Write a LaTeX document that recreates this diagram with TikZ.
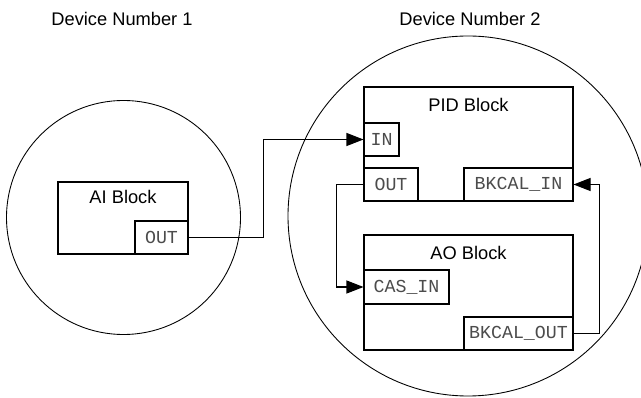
\documentclass[tikz,border=0pt]{standalone}
\usepackage{fontspec}
\setsansfont{Liberation Sans}
\setmonofont{Liberation Mono}
\usepackage{tikz}
\usetikzlibrary{calc,arrows.meta,positioning}
\tikzset {>={Triangle[length=.34cm,width=.26cm]}}
\tikzset{
  block/.style={draw,line width=.6pt,minimum width=4.18cm,minimum height=2.28cm,inner sep=0pt},
  port/.style={draw,fill=white,line width=.6pt,inner sep=0pt,minimum height=.66cm,
    font=\ttfamily\fontsize{10.4}{12}\selectfont,text=black!70},
  lbl/.style={font=\sffamily\fontsize{10.4}{12}\selectfont},
}

\begin{document}
\begin{tikzpicture}
\useasboundingbox (0,0) rectangle (12.82,7.94);
\node[lbl] (dev1) at (2.44,7.56) {Device Number 1};
\node[lbl] (dev2) at (9.40,7.56) {Device Number 2};
\draw[line width=.5pt] (2.47,3.59) circle (2.34);
\draw[line width=.5pt] (9.36,3.62) circle (3.6);
% device 1
\node[block,minimum width=2.6cm,minimum height=1.44cm] (ai) at (2.46,3.58) {};
\node[lbl] (ailbl) at ($(ai.north)+(0,-.3)$) {AI Block};
\node[port,minimum width=1.06cm,anchor=south east] (aiout) at (ai.south east) {OUT};
% device 2
\node[block] (pid) at (9.37,5.06) {};
\node[lbl] (pidlbl) at ($(pid.north)+(0,-.36)$) {PID Block};
\node[port,minimum width=.7cm,anchor=north west] (pidin) at ($(pid.north west)+(0,-.72)$) {IN};
\node[port,minimum width=1.08cm,anchor=south west] (pidout) at (pid.south west) {OUT};
\node[port,minimum width=2.18cm,anchor=south east] (bkin) at (pid.south east) {BKCAL\_IN};
\node[block,minimum height=2.3cm] (ao) at (9.37,2.09) {};
\node[lbl] (aolbl) at ($(ao.north)+(0,-.36)$) {AO Block};
\node[port,minimum width=1.7cm,minimum height=.68cm,anchor=north west] (casin) at ($(ao.north west)+(0,-.7)$) {CAS\_IN};
\node[port,minimum width=2.18cm,anchor=south east] (bkout) at (ao.south east) {BKCAL\_OUT};
% links
\draw[->,line width=.6pt] (aiout.east) -- ++(1.5,0) |- (pidin.west);
\draw[->,line width=.6pt] (pidout.west) -- ++(-.54,0) |- (casin.west);
\draw[->,line width=.6pt] (bkout.east) -- ++(.52,0) |- (bkin.east);
\end{tikzpicture}
\end{document}
